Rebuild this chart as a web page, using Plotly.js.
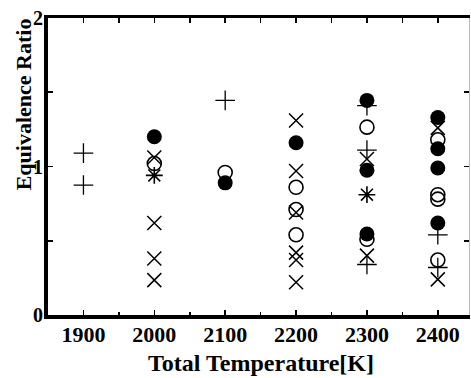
<!DOCTYPE html>
<html>
<head>
<meta charset="utf-8">
<script src="https://cdn.plot.ly/plotly-3.0.1.min.js"></script>
<style>html,body{margin:0;padding:0;background:#fff;}#chart{width:471px;height:378px;}</style>
</head>
<body>
<div id="chart"></div>
<script>
// Data (Total Temperature [K] vs Equivalence Ratio)
var plusX     = [1900, 1900, 2100, 2300, 2300, 2300, 2400, 2400];
var plusY     = [1.09, 0.875, 1.445, 1.41, 1.11, 0.34, 0.54, 0.32];

var filledX   = [2000, 2100, 2200, 2300, 2300, 2300, 2400, 2400, 2400, 2400];
var filledY   = [1.20, 0.89, 1.16, 1.445, 0.975, 0.545, 1.33, 1.12, 0.99, 0.62];

var openX     = [2000, 2100, 2200, 2200, 2200, 2300, 2300, 2400, 2400, 2400, 2400];
var openY     = [1.02, 0.96, 0.86, 0.71, 0.54, 1.265, 0.51, 1.18, 0.81, 0.78, 0.37];

var crossX    = [2000, 2000, 2000, 2000, 2200, 2200, 2200, 2200, 2200, 2200, 2300, 2300, 2400, 2400];
var crossY    = [1.06, 0.62, 0.38, 0.235, 1.31, 0.97, 0.69, 0.42, 0.37, 0.22, 1.05, 0.40, 1.26, 0.24];

var asteriskX = [2000, 2300];
var asteriskY = [0.94, 0.81];

var xTitle = 'Total Temperature[K]';
var yTitle = 'Equivalence Ratio';

var xRange = [1850, 2444];
var yRange = [0, 2];

var serif = 'Liberation Serif, Times New Roman, serif';

function tr(x, y, symbol, size, lw, xa, ya) {
  return {
    x: x, y: y, type: 'scatter', mode: 'markers', showlegend: false,
    xaxis: xa || 'x', yaxis: ya || 'y',
    marker: {symbol: symbol, size: size, color: '#000', line: {color: '#000', width: lw}}
  };
}

var data = [
  tr(crossX, crossY, 'x-thin-open', 14, 1.5),
  tr(plusX, plusY, 'cross-thin-open', 14, 1.3, 'x2', 'y2'),
  tr(asteriskX, asteriskY, 'asterisk-open', 14, 1.6),
  tr(openX, openY, 'circle-open', 14, 1.6),
  tr(filledX, filledY, 'circle', 15, 0)
];

var tickFont = {family: serif, size: 22, color: '#000', weight: 'bold'};

var layout = {
  width: 471, height: 378,
  margin: {l: 48, r: 2, t: 18, b: 63},
  paper_bgcolor: '#fff', plot_bgcolor: '#fff',
  font: {family: serif, color: '#000'},
  xaxis: {
    range: xRange, tickmode: 'linear', tick0: 1900, dtick: 100,
    showgrid: false, zeroline: false,
    showline: true, linecolor: '#000', linewidth: 4,
    ticks: 'inside', ticklen: 5, tickwidth: 1.6, tickcolor: '#000',
    minor: {dtick: 50, tick0: 1850, ticks: 'inside', ticklen: 3, tickwidth: 1.6, tickcolor: '#000', showgrid: false},
    tickfont: tickFont, ticklabelstandoff: -3
  },
  yaxis: {
    range: yRange, tickmode: 'linear', tick0: 0, dtick: 1,
    showgrid: false, zeroline: false,
    showline: true, linecolor: '#000', linewidth: 4,
    ticks: 'inside', ticklen: 5, tickwidth: 1.6, tickcolor: '#000',
    minor: {dtick: 0.5, tick0: 0, ticks: 'inside', ticklen: 5, tickwidth: 1.6, tickcolor: '#000', showgrid: false},
    tickfont: {family: serif, size: 20, color: '#000', weight: 'bold'}, ticklabelstandoff: -3
  },
  xaxis2: {
    overlaying: 'x', side: 'top', range: xRange, tickmode: 'linear', tick0: 1850, dtick: 50,
    showgrid: false, zeroline: false, showticklabels: false,
    showline: true, linecolor: '#000', linewidth: 3,
    ticks: 'inside', ticklen: 5, tickwidth: 1.6, tickcolor: '#000'
  },
  yaxis2: {
    overlaying: 'y', side: 'right', range: yRange, tickmode: 'linear', tick0: 0, dtick: 0.5,
    showgrid: false, zeroline: false, showticklabels: false,
    showline: true, linecolor: '#bbb', linewidth: 1,
    ticks: 'inside', ticklen: 5, tickwidth: 1.6, tickcolor: '#000'
  },
  annotations: [
    {text: xTitle, xref: 'paper', yref: 'paper', x: 0.507, y: -0.163, xanchor: 'center', yanchor: 'middle',
     showarrow: false, font: {family: serif, size: 24, color: '#000', weight: 'bold'}},
    {text: yTitle, xref: 'paper', yref: 'paper', x: -0.058, y: 0.708, xanchor: 'center', yanchor: 'middle',
     textangle: -90, showarrow: false, font: {family: serif, size: 22, color: '#000', weight: 'bold'}}
  ]
};

Plotly.newPlot('chart', data, layout, {staticPlot: true, displayModeBar: false});
</script>
</body>
</html>
